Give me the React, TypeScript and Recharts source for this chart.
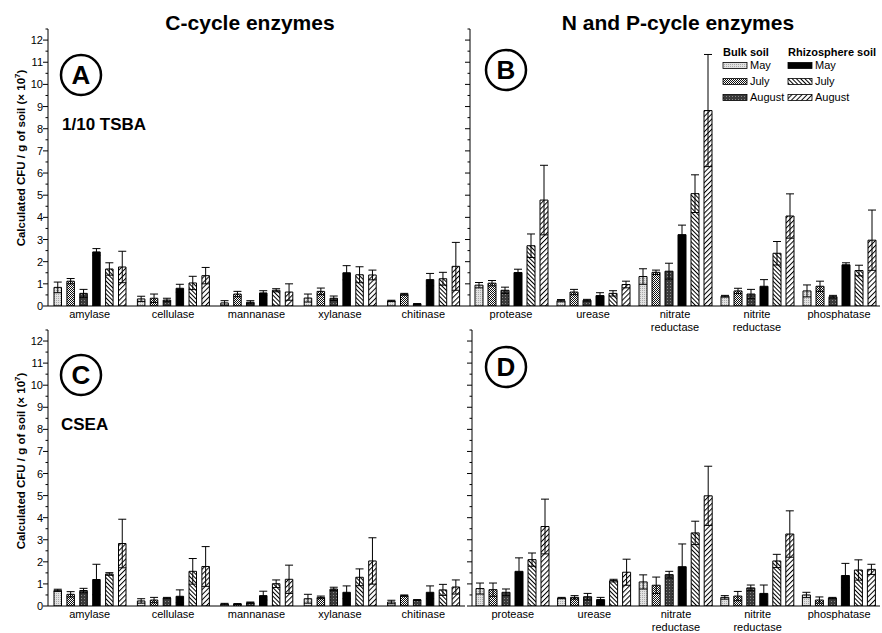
import React from "react";
import { BarChart, Bar, XAxis, YAxis, ErrorBar } from "recharts";

const cCategories = ["amylase", "cellulase", "mannanase", "xylanase", "chitinase"];
const npCategories = ["protease", "urease", "nitrate reductase", "nitrite reductase", "phosphatase"];
const seriesNames = ["Bulk May", "Bulk July", "Bulk August", "Rhizosphere May", "Rhizosphere July", "Rhizosphere August"];
const yTicks = [0, 0.5, 1, 1.5, 2, 2.5, 3, 3.5, 4, 4.5, 5, 5.5, 6, 6.5, 7, 7.5, 8, 8.5, 9, 9.5, 10, 10.5, 11, 11.5, 12, 12.5];

// rows = series (bulk May, July, Aug, rhizosphere May, July, Aug), columns = categories
const tsbaCValues = [
  [0.84, 0.32, 0.14, 0.36, 0.23],
  [1.12, 0.35, 0.54, 0.66, 0.53],
  [0.57, 0.27, 0.17, 0.35, 0.09],
  [2.44, 0.8, 0.59, 1.5, 1.19],
  [1.67, 1.04, 0.71, 1.41, 1.23],
  [1.76, 1.37, 0.63, 1.4, 1.79],
];
const tsbaCErrors = [
  [0.24, 0.12, 0.1, 0.18, 0.03],
  [0.12, 0.19, 0.12, 0.15, 0.04],
  [0.18, 0.08, 0.07, 0.1, 0.02],
  [0.15, 0.18, 0.1, 0.32, 0.28],
  [0.28, 0.3, 0.07, 0.36, 0.29],
  [0.71, 0.37, 0.37, 0.22, 1.08],
];
const tsbaNPValues = [
  [0.94, 0.24, 1.33, 0.44, 0.68],
  [1.03, 0.63, 1.52, 0.68, 0.89],
  [0.71, 0.26, 1.57, 0.54, 0.42],
  [1.51, 0.47, 3.22, 0.89, 1.86],
  [2.72, 0.57, 5.07, 2.38, 1.6],
  [4.78, 0.97, 8.82, 4.06, 2.97],
];
const tsbaNPErrors = [
  [0.12, 0.05, 0.35, 0.04, 0.27],
  [0.12, 0.12, 0.1, 0.12, 0.23],
  [0.14, 0.04, 0.36, 0.21, 0.06],
  [0.15, 0.13, 0.43, 0.3, 0.09],
  [0.53, 0.12, 0.85, 0.53, 0.24],
  [1.57, 0.15, 2.53, 1.0, 1.36],
];
const cseaCValues = [
  [0.71, 0.23, 0.09, 0.33, 0.18],
  [0.53, 0.27, 0.09, 0.39, 0.47],
  [0.7, 0.36, 0.15, 0.77, 0.27],
  [1.2, 0.44, 0.47, 0.62, 0.62],
  [1.45, 1.57, 1.01, 1.3, 0.73],
  [2.83, 1.79, 1.21, 2.04, 0.86],
];
const cseaCErrors = [
  [0.05, 0.1, 0.03, 0.2, 0.08],
  [0.12, 0.12, 0.02, 0.06, 0.03],
  [0.1, 0.03, 0.03, 0.08, 0.02],
  [0.69, 0.29, 0.2, 0.29, 0.29],
  [0.06, 0.58, 0.17, 0.38, 0.25],
  [1.1, 0.9, 0.64, 1.05, 0.32],
];
const cseaNPValues = [
  [0.79, 0.36, 1.09, 0.39, 0.5],
  [0.74, 0.39, 0.94, 0.45, 0.27],
  [0.62, 0.42, 1.42, 0.82, 0.36],
  [1.57, 0.29, 1.78, 0.57, 1.38],
  [2.1, 1.15, 3.31, 2.04, 1.63],
  [3.6, 1.53, 4.99, 3.26, 1.66],
];
const cseaNPErrors = [
  [0.25, 0.03, 0.32, 0.08, 0.12],
  [0.3, 0.08, 0.37, 0.21, 0.14],
  [0.15, 0.15, 0.15, 0.13, 0.03],
  [0.61, 0.1, 1.03, 0.38, 0.55],
  [0.3, 0.06, 0.53, 0.3, 0.46],
  [1.24, 0.59, 1.34, 1.05, 0.23],
];

const FONT = "'Liberation Sans', Arial, Helvetica, sans-serif";
const fills = ["url(#bulkMay)", "url(#bulkJuly)", "url(#bulkAug)", "#000", "url(#rhizJuly)", "url(#rhizAug)"];

function buildRows(categories: string[], values: number[][], errors: number[][]) {
  return categories.map((name, i) => {
    const row: any = { name };
    values.forEach((s, k) => {
      row["v" + k] = s[i];
      row["e" + k] = errors[k][i];
    });
    return row;
  });
}

const YTick = (props: any) => {
  const { x, y, payload, showLabel } = props;
  const major = Number.isInteger(payload.value);
  return (
    <g>
      <line x1={x - (major ? 5 : 2.5)} x2={x} y1={y} y2={y} stroke="#000" strokeWidth={1} />
      {showLabel && major && (
        <text x={x - 5} y={y + 4} textAnchor="end" fontSize={11} fontFamily={FONT} fill="#000">
          {payload.value}
        </text>
      )}
    </g>
  );
};

const XTick = (props: any) => {
  const { x, y, payload } = props;
  const lines = String(payload.value).split(" ");
  return (
    <text x={x} y={y} textAnchor="middle" fontSize={11} fontFamily={FONT} fill="#000">
      {lines.map((l, i) => (
        <tspan key={i} x={x} dy={i === 0 ? 11.5 : 13}>
          {l}
        </tspan>
      ))}
    </text>
  );
};

function Panel(props: any) {
  const { rows, left, top, width, height, yWidth, showLabel, barSize, barGap } = props;
  return (
    <div style={{ position: "absolute", left, top }}>
      <BarChart
        width={width}
        height={height}
        data={rows}
        margin={{ top: 5, right: 2, bottom: 0, left: 0 }}
        barSize={barSize}
        barGap={barGap}
      >
        <XAxis
          dataKey="name"
          interval={0}
          tickLine={false}
          tickSize={0}
          tickMargin={0}
          axisLine={{ stroke: "#000" }}
          height={30}
          tick={<XTick />}
        />
        <YAxis
          domain={[0, 12.5]}
          ticks={yTicks}
          interval={0}
          width={yWidth}
          tickLine={false}
          tickSize={0}
          tickMargin={0}
          axisLine={{ stroke: "#000" }}
          tick={<YTick showLabel={showLabel} />}
          allowDataOverflow
        />
        {seriesNames.map((name, k) => (
          <Bar
            key={name}
            name={name}
            dataKey={"v" + k}
            fill={fills[k]}
            stroke="#000"
            strokeWidth={1}
            isAnimationActive={false}
          >
            <ErrorBar dataKey={"e" + k} width={4} stroke="#000" strokeWidth={1} />
          </Bar>
        ))}
      </BarChart>
    </div>
  );
}

const Circled = ({ cx, cy, letter }: any) => (
  <g>
    <circle cx={cx} cy={cy} r={20} fill="none" stroke="#000" strokeWidth={2.5} />
    <text x={cx} y={cy + 9} textAnchor="middle" fontSize={26} fontWeight="bold" fontFamily={FONT}>
      {letter}
    </text>
  </g>
);

const YLabel = ({ cy }: any) => (
  <text
    transform={`translate(25,${cy}) rotate(-90)`}
    textAnchor="middle"
    fontSize={11.5}
    fontWeight="bold"
    fontFamily={FONT}
  >
    Calculated CFU / g of soil (× 10
    <tspan dy={-5} fontSize={8}>7</tspan>
    <tspan dy={5}>)</tspan>
  </text>
);

const legendRows = ["May", "July", "August"];

export default function App() {
  const rowsA = buildRows(cCategories, tsbaCValues, tsbaCErrors);
  const rowsB = buildRows(npCategories, tsbaNPValues, tsbaNPErrors);
  const rowsC = buildRows(cCategories, cseaCValues, cseaCErrors);
  const rowsD = buildRows(npCategories, cseaNPValues, cseaNPErrors);
  return (
    <div style={{ position: "absolute", left: 0, top: 0, width: 882, height: 633, background: "#fff", fontFamily: FONT }}>
      <svg width={0} height={0} style={{ position: "absolute" }}>
        <defs>
          <pattern id="bulkMay" width={2} height={2} patternUnits="userSpaceOnUse">
            <rect width={2} height={2} fill="#e2e2e2" />
            <rect width={1} height={1} fill="#a9a9a9" />
          </pattern>
          <pattern id="bulkJuly" width={2} height={2} patternUnits="userSpaceOnUse">
            <rect width={2} height={2} fill="#fff" />
            <rect width={1} height={1} fill="#111" />
            <rect x={1} y={1} width={1} height={1} fill="#111" />
          </pattern>
          <pattern id="bulkAug" width={3} height={3} patternUnits="userSpaceOnUse">
            <rect width={3} height={3} fill="#3a3a3a" />
            <rect width={1} height={1} fill="#8a8a8a" />
          </pattern>
          <pattern id="rhizJuly" width={3} height={3} patternUnits="userSpaceOnUse" patternTransform="rotate(-45)">
            <rect width={3} height={3} fill="#fff" />
            <line x1={0.5} y1={0} x2={0.5} y2={3} stroke="#000" strokeWidth={1} />
          </pattern>
          <pattern id="rhizAug" width={3.6} height={3.6} patternUnits="userSpaceOnUse" patternTransform="rotate(45)">
            <rect width={3.6} height={3.6} fill="#fff" />
            <line x1={0.5} y1={0} x2={0.5} y2={3.6} stroke="#000" strokeWidth={1} />
          </pattern>
        </defs>
      </svg>

      <Panel rows={rowsA} left={18} top={24} width={449} height={312} yWidth={30} showLabel barSize={7.5} barGap={5.4} />
      <Panel rows={rowsB} left={460} top={24} width={422} height={312} yWidth={10} showLabel={false} barSize={8} barGap={5} />
      <Panel rows={rowsC} left={18} top={325} width={449} height={311} yWidth={30} showLabel barSize={7.5} barGap={5.4} />
      <Panel rows={rowsD} left={462} top={325} width={420} height={311} yWidth={10} showLabel={false} barSize={8} barGap={5} />

      <svg width={882} height={633} style={{ position: "absolute", left: 0, top: 0, pointerEvents: "none" }}>
        <text x={250} y={30} textAnchor="middle" fontSize={21} fontWeight="bold" fontFamily={FONT}>
          C-cycle enzymes
        </text>
        <text x={678} y={30} textAnchor="middle" fontSize={21} fontWeight="bold" fontFamily={FONT}>
          N and P-cycle enzymes
        </text>
        <YLabel cy={158} />
        <YLabel cy={461} />
        <Circled cx={81} cy={75} letter="A" />
        <Circled cx={506} cy={70} letter="B" />
        <Circled cx={81} cy={375} letter="C" />
        <Circled cx={506} cy={367} letter="D" />
        <text x={62} y={130} fontSize={17} fontWeight="bold" fontFamily={FONT}>
          1/10 TSBA
        </text>
        <text x={61} y={430} fontSize={17} fontWeight="bold" fontFamily={FONT}>
          CSEA
        </text>

        <text x={723} y={56} fontSize={11} fontWeight="bold" fontFamily={FONT}>
          Bulk soil
        </text>
        <text x={788} y={56} fontSize={11} fontWeight="bold" fontFamily={FONT}>
          Rhizosphere soil
        </text>
        {legendRows.map((label, i) => (
          <g key={label}>
            <rect x={723} y={62.5 + i * 16} width={24} height={6} fill={fills[i]} stroke="#000" strokeWidth={0.8} />
            <text x={750} y={69 + i * 16} fontSize={11} fontFamily={FONT}>
              {label}
            </text>
            <rect x={788} y={62.5 + i * 16} width={24} height={6} fill={fills[i + 3]} stroke="#000" strokeWidth={0.8} />
            <text x={815} y={69 + i * 16} fontSize={11} fontFamily={FONT}>
              {label}
            </text>
          </g>
        ))}
      </svg>
    </div>
  );
}
